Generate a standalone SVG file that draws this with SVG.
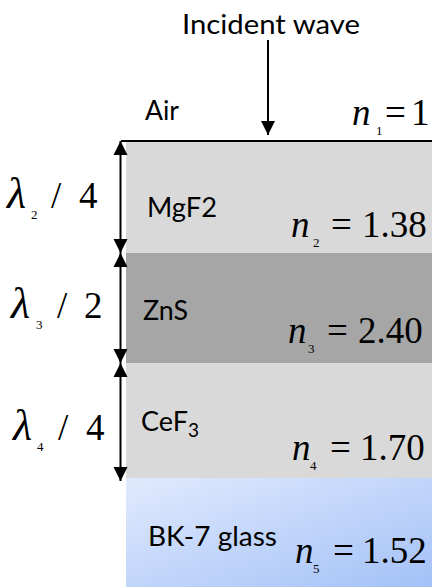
<svg xmlns="http://www.w3.org/2000/svg" width="432" height="587" viewBox="0 0 432 587">
<defs>
<linearGradient id="glass" x1="0" y1="0" x2="1" y2="1">
<stop offset="0" stop-color="#e0eafd"/>
<stop offset="1" stop-color="#a3c1f7"/>
</linearGradient>
<marker id="ah" viewBox="0 0 14 16" refX="14" refY="8" markerWidth="14" markerHeight="16" markerUnits="userSpaceOnUse" orient="auto-start-reverse">
<path d="M0,1 L14,8 L0,15 Z" fill="#000"/>
</marker>
</defs>
<style>
.lbl{font-family:Lato,"Liberation Sans",sans-serif;font-size:27px;fill:#000}
.m{font-family:"Liberation Serif","Times New Roman",serif;font-size:37px;fill:#000}
.mi{font-family:"Liberation Serif","Times New Roman",serif;font-size:37px;font-style:italic;fill:#000}
.lam{font-family:"Liberation Serif","Times New Roman",serif;font-size:44px;font-style:italic;fill:#000}
.sub{font-family:"Liberation Serif","Times New Roman",serif;font-size:13px;fill:#000}
</style>
<g id="layer-mgf2"><rect x="126" y="142" width="306" height="111" fill="#d9d9d9"/>
<text class="lbl" x="147" y="217" textLength="70" lengthAdjust="spacingAndGlyphs">MgF2</text>
<text class="mi" x="291" y="237">n</text><text class="sub" x="313" y="247">2</text><text class="m" x="331" y="237">=</text><text class="m" x="362" y="237">1.38</text></g>
<g id="layer-zns"><rect x="126" y="253" width="306" height="110" fill="#a6a6a6"/>
<text class="lbl" x="143" y="320" textLength="45" lengthAdjust="spacingAndGlyphs">ZnS</text>
<text class="mi" x="288" y="343">n</text><text class="sub" x="308" y="353">3</text><text class="m" x="327" y="343">=</text><text class="m" x="358" y="343">2.40</text></g>
<g id="layer-cef3"><rect x="126" y="363" width="306" height="115" fill="#d9d9d9"/>
<text class="lbl" x="141" y="431">CeF<tspan font-size="19" dy="6">3</tspan></text>
<text class="mi" x="292" y="460">n</text><text class="sub" x="310" y="470">4</text><text class="m" x="330" y="460">=</text><text class="m" x="360" y="460">1.70</text></g>
<g id="layer-glass"><rect x="126" y="478" width="306" height="109" fill="url(#glass)"/>
<text class="lbl" x="148" y="546" textLength="129" lengthAdjust="spacingAndGlyphs">BK-7 glass</text>
<text class="mi" x="295" y="563">n</text><text class="sub" x="313" y="573">5</text><text class="m" x="333" y="563">=</text><text class="m" x="362" y="563">1.52</text></g>
<g id="air">
<text class="lbl" x="145" y="120" textLength="34" lengthAdjust="spacingAndGlyphs">Air</text>
<text class="mi" x="352" y="125">n</text><text class="sub" x="376" y="135">1</text><text class="m" x="385" y="125">=</text><text class="m" x="411" y="125">1</text></g>
<g id="incident">
<text class="lbl" x="182" y="34" textLength="178" lengthAdjust="spacingAndGlyphs">Incident wave</text></g>
<g id="thickness-labels">
<text class="lam" x="7" y="208">λ</text><text class="sub" x="31" y="219">2</text><text class="m" x="51" y="208">/</text><text class="m" x="79" y="208">4</text>
<text class="lam" x="11" y="318">λ</text><text class="sub" x="36" y="329">3</text><text class="m" x="57" y="318">/</text><text class="m" x="84" y="318">2</text>
<text class="lam" x="13" y="440">λ</text><text class="sub" x="37" y="451">4</text><text class="m" x="58" y="440">/</text><text class="m" x="86" y="440">4</text>
</g>
<g id="connectors" stroke="#000" stroke-width="2" fill="none">
<line x1="121" y1="141" x2="432" y2="141"/>
<line x1="268" y1="40" x2="268" y2="135" marker-end="url(#ah)"/>
<line x1="120.5" y1="141" x2="120.5" y2="253" marker-start="url(#ah)" marker-end="url(#ah)"/>
<line x1="120.5" y1="253" x2="120.5" y2="363" marker-start="url(#ah)" marker-end="url(#ah)"/>
<line x1="120.5" y1="363" x2="120.5" y2="481" marker-start="url(#ah)" marker-end="url(#ah)"/>
</g>
</svg>
